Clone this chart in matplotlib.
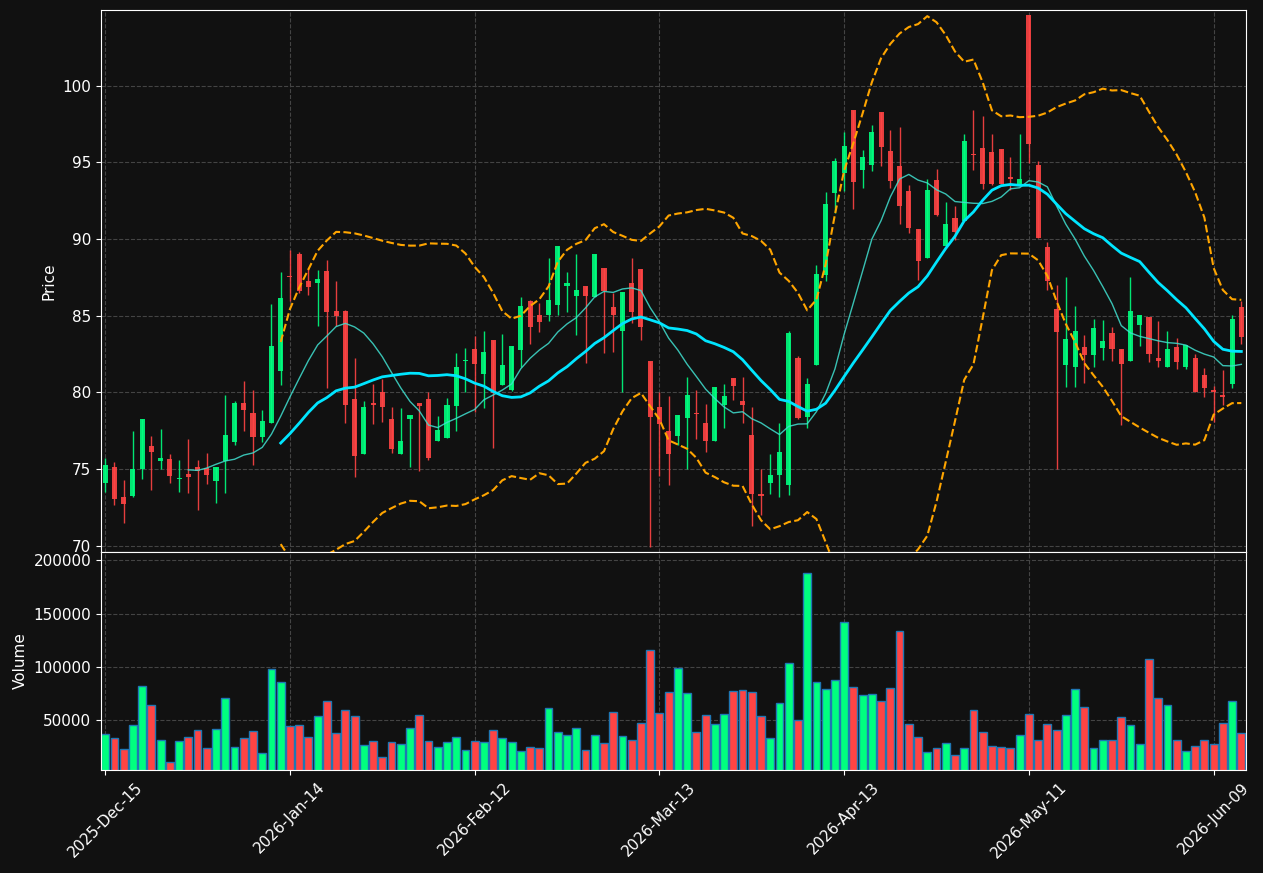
import numpy as np
import pandas as pd
import matplotlib
matplotlib.use("Agg")
import matplotlib.pyplot as plt

opens = [74.08, 75.16, 73.20, 73.23, 74.98, 76.52, 75.51, 75.62, 74.35, 74.70,
         75.16, 75.07, 74.22, 75.53, 76.77, 79.33, 78.62, 77.07, 77.97, 81.36,
         87.60, 89.03, 87.26, 87.10, 87.93, 85.32, 85.32, 79.59, 75.97, 79.33,
         80.00, 78.29, 75.97, 78.25, 79.31, 79.59, 76.80, 77.00, 79.08, 82.03,
         82.83, 81.22, 83.41, 80.46, 80.18, 82.76, 85.97, 85.02, 85.02, 85.67,
         86.96, 86.29, 86.94, 86.22, 88.11, 85.58, 84.03, 87.14, 88.04, 82.05,
         79.03, 77.47, 77.14, 78.34, 78.64, 78.00, 76.82, 79.15, 80.92, 79.42,
         77.24, 73.39, 74.08, 74.59, 73.96, 82.26, 78.39, 81.75, 87.67, 93.02,
         94.33, 98.41, 94.52, 94.82, 98.27, 95.74, 94.75, 93.13, 90.65, 88.76,
         93.85, 89.52, 91.36, 91.20, 95.53, 95.92, 95.67, 95.85, 94.06, 93.55,
         104.59, 94.82, 89.47, 85.44, 81.75, 81.64, 82.95, 82.44, 82.90, 83.87,
         82.83, 82.07, 84.42, 84.93, 82.26, 81.68, 82.97, 81.64, 82.26, 81.15,
         80.14, 79.84, 80.53, 85.58]
highs = [75.69, 75.46, 74.26, 77.49, 78.23, 77.17, 77.63, 75.99, 75.58, 76.96,
         75.58, 76.04, 75.16, 79.84, 79.45, 80.76, 80.12, 78.85, 85.76, 87.83,
         89.29, 89.17, 88.13, 87.95, 88.62, 87.24, 85.40, 82.26, 79.45, 80.53,
         80.88, 79.03, 78.99, 78.53, 79.31, 80.02, 78.46, 79.65, 82.56, 82.90,
         83.69, 83.99, 83.41, 83.80, 83.04, 86.22, 86.00, 85.83, 88.76, 89.54,
         87.86, 89.01, 86.94, 89.03, 88.11, 86.45, 86.54, 88.76, 88.04, 82.05,
         80.02, 79.77, 78.50, 80.99, 80.12, 79.22, 80.35, 80.53, 80.92, 80.99,
         79.03, 74.98, 75.99, 78.00, 83.99, 82.37, 80.92, 88.32, 93.09, 95.28,
         97.00, 98.41, 95.81, 97.47, 98.27, 97.10, 97.28, 93.55, 90.65, 93.94,
         94.54, 92.40, 92.17, 96.82, 98.43, 98.02, 96.87, 95.85, 95.32, 96.82,
         104.59, 95.12, 89.79, 86.98, 87.51, 85.65, 83.73, 84.79, 84.72, 84.26,
         82.83, 87.51, 85.02, 84.93, 84.63, 83.99, 83.53, 83.06, 82.53, 81.61,
         80.41, 81.45, 85.02, 85.94]
lows = [73.50, 72.65, 71.50, 73.20, 74.35, 73.62, 74.98, 74.10, 73.50, 73.43,
        72.35, 74.03, 72.81, 73.46, 76.57, 77.49, 75.23, 76.73, 77.97, 80.48,
        85.94, 86.50, 86.36, 84.33, 80.30, 84.33, 78.00, 74.49, 75.97, 77.95,
        78.09, 76.04, 75.97, 75.12, 74.88, 75.58, 76.80, 77.00, 77.47, 80.02,
        78.69, 78.96, 76.38, 80.46, 80.07, 81.68, 83.13, 83.94, 84.68, 85.02,
        85.21, 83.76, 81.91, 86.22, 82.56, 82.60, 80.02, 84.52, 83.41, 69.93,
        74.54, 73.96, 76.57, 75.00, 76.96, 76.08, 76.82, 77.65, 79.49, 78.00,
        71.31, 72.00, 73.34, 73.20, 73.27, 78.23, 77.65, 81.75, 87.26, 91.71,
        93.13, 91.98, 93.32, 94.42, 94.75, 93.32, 90.97, 90.37, 87.33, 88.76,
        91.47, 89.52, 89.91, 91.20, 94.52, 93.27, 93.50, 93.59, 93.20, 93.55,
        94.93, 90.09, 86.68, 75.00, 80.35, 80.35, 80.60, 81.68, 82.14, 82.03,
        77.88, 82.07, 83.00, 81.98, 81.68, 81.68, 81.50, 81.50, 80.00, 79.72,
        78.04, 79.19, 80.25, 83.13]
closes = [75.23, 73.04, 72.72, 75.02, 78.23, 76.08, 75.69, 74.54, 74.40, 74.47,
          74.88, 74.59, 75.16, 77.19, 79.33, 78.82, 77.07, 78.16, 83.04, 86.15,
          87.49, 86.59, 86.87, 87.37, 85.21, 84.95, 79.15, 75.83, 79.01, 79.19,
          79.03, 76.29, 76.84, 78.53, 79.08, 75.69, 77.51, 79.19, 81.66, 82.14,
          81.87, 82.60, 79.95, 81.80, 83.04, 85.65, 84.29, 84.56, 86.04, 89.54,
          87.14, 86.68, 86.29, 89.03, 86.59, 85.02, 86.54, 85.25, 84.29, 78.39,
          77.95, 75.97, 78.50, 79.84, 78.57, 76.82, 80.35, 79.77, 80.41, 79.15,
          73.39, 73.25, 74.61, 76.13, 83.89, 78.34, 80.51, 87.72, 92.28, 95.07,
          96.06, 93.73, 95.35, 96.96, 96.01, 93.78, 92.17, 90.74, 88.59, 93.20,
          91.59, 90.97, 90.44, 96.38, 95.46, 93.59, 93.59, 93.59, 93.92, 93.92,
          96.20, 90.09, 87.28, 83.96, 83.50, 83.99, 82.44, 84.22, 83.34, 82.83,
          81.87, 85.32, 85.02, 82.53, 82.03, 82.83, 81.96, 83.06, 80.00, 80.30,
          80.00, 79.68, 84.79, 83.59]
volumes = [36870, 33100, 22800, 45300, 81900, 64050, 31200, 10600, 30300, 34050,
           40600, 24000, 41550, 70600, 24700, 33100, 39700, 19000, 97850, 85650,
           44400, 45300, 34050, 53750, 67800, 37800, 59400, 53750, 26550, 30300,
           15300, 29350, 27500, 42500, 54700, 30300, 24700, 29350, 34050, 21850,
           30300, 29350, 40600, 33100, 29350, 20900, 24700, 23700, 61250, 38750,
           35900, 42500, 21850, 35900, 28400, 57500, 35000, 31200, 47200, 115650,
           56550, 76250, 99350, 75300, 38750, 54700, 46250, 55600, 77200, 78150,
           76250, 53750, 33100, 65950, 103450, 50000, 187900, 85650, 79100, 87500,
           141900, 80950, 73450, 74400, 67800, 80000, 133500, 46250, 34050, 20000,
           23700, 28400, 17150, 23700, 59400, 38750, 25600, 24700, 23700, 35900,
           55600, 31200, 46250, 40600, 54700, 79100, 62200, 23700, 31200, 31200,
           52800, 45300, 27500, 107200, 70600, 64050, 31200, 20900, 25600, 31200,
           27500, 47200, 67800, 37800]
tick_labels = ['2025-Dec-15', '2026-Jan-14', '2026-Feb-12', '2026-Mar-13',
               '2026-Apr-13', '2026-May-11', '2026-Jun-09']

BG = '#111111'
UP = '#00ff7f'
DOWN = '#ff4444'

df = pd.DataFrame({'open': opens, 'high': highs, 'low': lows,
                   'close': closes, 'volume': volumes})
x = np.arange(len(df))
df['sma10'] = df['close'].rolling(10).mean()
df['sma20'] = df['close'].rolling(20).mean()
std20 = df['close'].rolling(20).std()
df['bb_up'] = df['sma20'] + 2 * std20
df['bb_lo'] = df['sma20'] - 2 * std20

up = df['close'] >= df['open']
colors = np.where(up, UP, DOWN)

fig = plt.figure(figsize=(12.63, 8.73), dpi=100, facecolor=BG)
ax = fig.add_axes([0.080, 0.3677, 0.9065, 0.6208])
axv = fig.add_axes([0.080, 0.118, 0.9065, 0.2497], sharex=ax)

for a in (ax, axv):
    a.set_facecolor(BG)
    for s in a.spines.values():
        s.set_color('white')
    a.tick_params(colors='white', labelsize=11)
    a.grid(True, color='#444444', linestyle='--', linewidth=0.8)
    a.set_axisbelow(True)

# candles
ax.vlines(x, df['low'], df['high'], color=colors, linewidth=1, alpha=0.9)
body_lo = np.minimum(df['open'], df['close'])
body_h = np.maximum(np.abs(df['close'] - df['open']), 0.08)
ax.bar(x, body_h, bottom=body_lo, width=0.55, color=colors, alpha=0.9)

ax.plot(x, df['sma10'], color='#40e0d0', linewidth=1, alpha=0.85)
ax.plot(x, df['sma20'], color='#00e5ff', linewidth=2)
ax.plot(x, df['bb_up'], color='orange', linestyle='--', linewidth=1.5)
ax.plot(x, df['bb_lo'], color='orange', linestyle='--', linewidth=1.5)

rng = max(highs) - min(lows)
ax.set_ylim(min(lows) - 0.01 * rng, max(highs) + 0.01 * rng)
ax.set_ylabel('Price', color='white', fontsize=11)
ax.tick_params(labelbottom=False)

# volume
axv.bar(x, df['volume'], width=0.85, color=colors, edgecolor='#1f77b4', linewidth=1)
axv.set_ylim(3500, max(volumes) * 1.106)
axv.set_ylabel('Volume', color='white', fontsize=11)
axv.set_xlim(-0.45, len(df) - 0.5)
axv.set_xticks(np.arange(0, len(df), 20))
axv.set_xticklabels(tick_labels, rotation=45)

fig.savefig('out.png', dpi=100, facecolor=BG)
